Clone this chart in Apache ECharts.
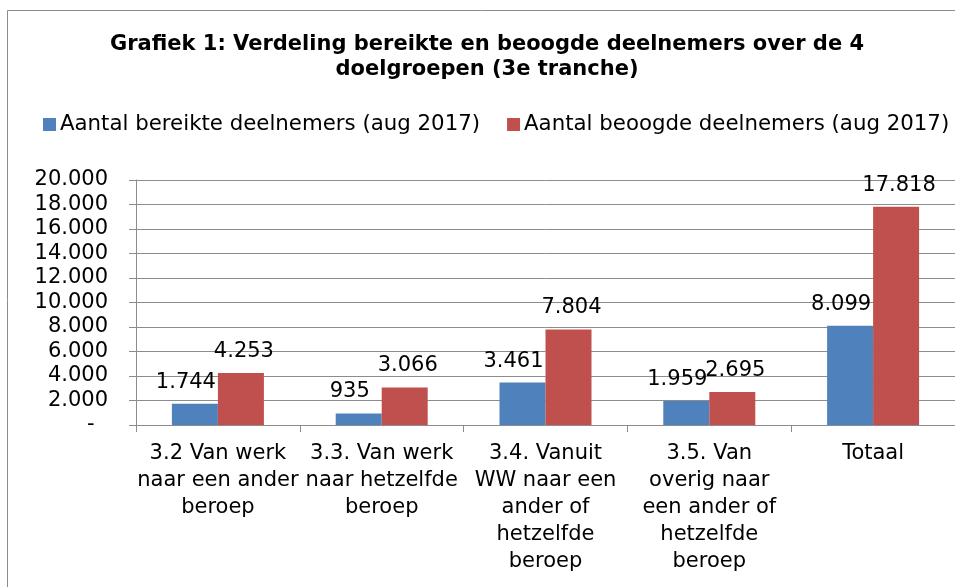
<!DOCTYPE html>
<html>
<head>
<meta charset="utf-8">
<script src="https://cdn.jsdelivr.net/npm/echarts@6/dist/echarts.min.js"></script>
<style>html,body{margin:0;padding:0;background:#fff}#c{width:955px;height:587px}</style>
</head>
<body>
<div id="c"></div>
<script>
const titleLines = ['Grafiek 1: Verdeling bereikte en beoogde deelnemers over de 4', 'doelgroepen (3e tranche)'];
const categories = [
  '3.2 Van werk\nnaar een ander\nberoep',
  '3.3. Van werk\nnaar hetzelfde\nberoep',
  '3.4. Vanuit\nWW naar een\nander of\nhetzelfde\nberoep',
  '3.5. Van\noverig naar\neen ander of\nhetzelfde\nberoep',
  'Totaal'
];
const seriesNames = ['Aantal bereikte deelnemers (aug 2017)', 'Aantal beoogde deelnemers (aug 2017)'];
const bereikt = [1744, 935, 3461, 1959, 8099];
const beoogd = [4253, 3066, 7804, 2695, 17818];
const yMin = 0, yMax = 20000, yStep = 2000;

const FONT = 'DejaVu Sans, Verdana, sans-serif';
const FS = 21;
function fmt(v) {
  if (v === 0) return '-  ';
  return String(v).replace(/\B(?=(\d{3})+(?!\d))/g, '.');
}

const chart = echarts.init(document.getElementById('c'), null, {renderer: 'canvas'});
chart.setOption({
  animation: false,
  textStyle: {fontFamily: FONT},
  graphic: [
    {type: 'rect', shape: {x: 7.5, y: 10.5, width: 1000, height: 1000}, style: {fill: 'none', stroke: '#8c8c8c', lineWidth: 1}, silent: true, z: -10},
    {type: 'text', x: 487, y: 45, style: {text: titleLines[0], font: 'bold 21px ' + FONT, fill: '#000', textAlign: 'center', textVerticalAlign: 'middle'}},
    {type: 'text', x: 487, y: 70, style: {text: titleLines[1], font: 'bold 21px ' + FONT, fill: '#000', textAlign: 'center', textVerticalAlign: 'middle'}}
  ],
  legend: {
    left: 43, top: 114, padding: 0,
    itemWidth: 13, itemHeight: 13, itemGap: 27,
    icon: 'rect',
    textStyle: {fontSize: 21.3, color: '#000', fontFamily: FONT, padding: [0, 0, 0, -1]},
    data: seriesNames
  },
  grid: {left: 136, right: -1, top: 180, bottom: 162, containLabel: false},
  xAxis: {
    type: 'category',
    data: categories,
    axisLine: {lineStyle: {color: '#8c8c8c', width: 1}},
    axisTick: {show: true, length: 7, lineStyle: {color: '#8c8c8c'}},
    axisLabel: {interval: 0, margin: 15, fontSize: FS, lineHeight: 27, color: '#000', fontFamily: FONT}
  },
  yAxis: {
    type: 'value', min: yMin, max: yMax, interval: yStep,
    axisLine: {show: true, lineStyle: {color: '#8c8c8c', width: 1}},
    axisTick: {show: true, length: 7, lineStyle: {color: '#8c8c8c'}},
    splitLine: {lineStyle: {color: '#8c8c8c', width: 1}},
    axisLabel: {margin: 28, fontSize: FS, color: '#000', fontFamily: FONT, formatter: fmt}
  },
  series: [
    {name: seriesNames[0], type: 'bar', data: bereikt, barWidth: 46, barGap: '0%',
     itemStyle: {color: '#4F81BD'},
     label: {show: true, position: 'top', distance: 11, offset: [-9, 0], fontSize: FS, color: '#000', fontFamily: FONT, formatter: p => fmt(p.value)}},
    {name: seriesNames[1], type: 'bar', data: beoogd, barWidth: 46, barGap: '0%',
     itemStyle: {color: '#C0504D'},
     label: {show: true, position: 'top', distance: 11, offset: [3, 0], fontSize: FS, color: '#000', fontFamily: FONT, formatter: p => fmt(p.value)}}
  ]
});
</script>
</body>
</html>
